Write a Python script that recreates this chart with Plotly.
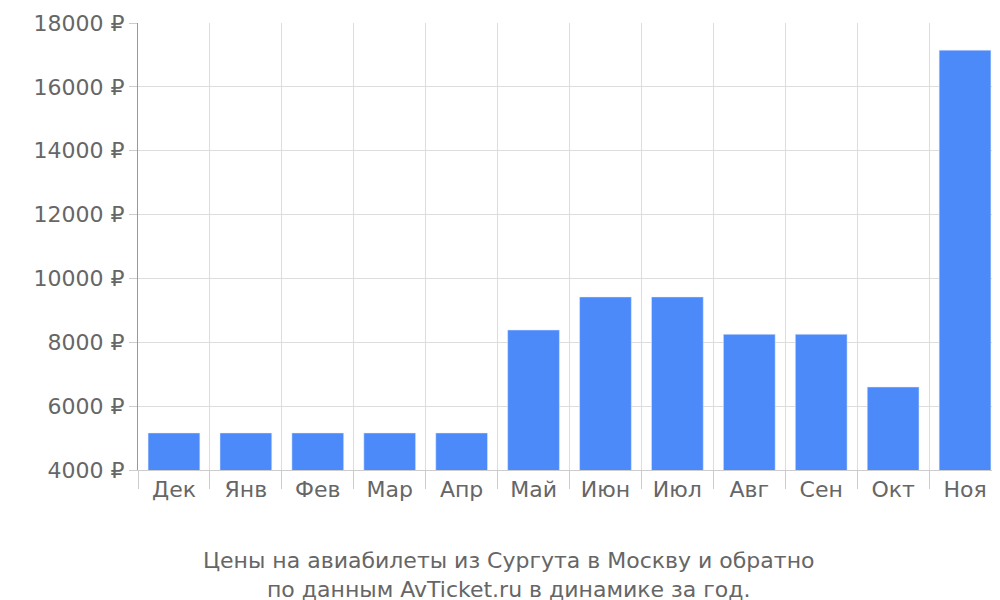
import plotly.graph_objects as go

months = ["Дек","Янв","Фев","Мар","Апр","Май","Июн","Июл","Авг","Сен","Окт","Ноя"]
prices = [5160,5160,5160,5160,5160,8385,9420,9420,8250,8250,6600,17150]
yticks = [4000,6000,8000,10000,12000,14000,16000,18000]
ylabels = [f"{v} ₽" for v in yticks]

fig = go.Figure(go.Bar(x=months, y=prices, marker_color="#4d8af9", width=0.72))
fig.update_layout(
    width=1000, height=600, paper_bgcolor="white", plot_bgcolor="white",
    margin=dict(l=130, r=7, t=15, b=138, autoexpand=False),
    font=dict(family="DejaVu Sans", size=22, color="#666666"),
    showlegend=False,
)
fig.add_annotation(text="Цены на авиабилеты из Сургута в Москву и обратно<br>по данным AvTicket.ru в динамике за год.",
                   xref="paper", yref="paper", x=(500-130)/863, y=-0.17, yanchor="top",
                   showarrow=False, font=dict(size=22, color="#666666"))
fig.update_xaxes(tickson="boundaries", ticks="outside", ticklen=18, tickcolor="#cccccc",
                 showgrid=True, gridcolor="#dddddd", showline=True, linecolor="#cccccc",
                 automargin=False)
fig.update_yaxes(range=[4000,18000], tickvals=yticks, ticktext=ylabels, showgrid=True,
                 gridcolor="#dddddd", showline=True, linecolor="#999999", ticks="outside",
                 ticklen=8, tickcolor="#cccccc", zeroline=False, automargin=False)
fig.write_html("out.html")
